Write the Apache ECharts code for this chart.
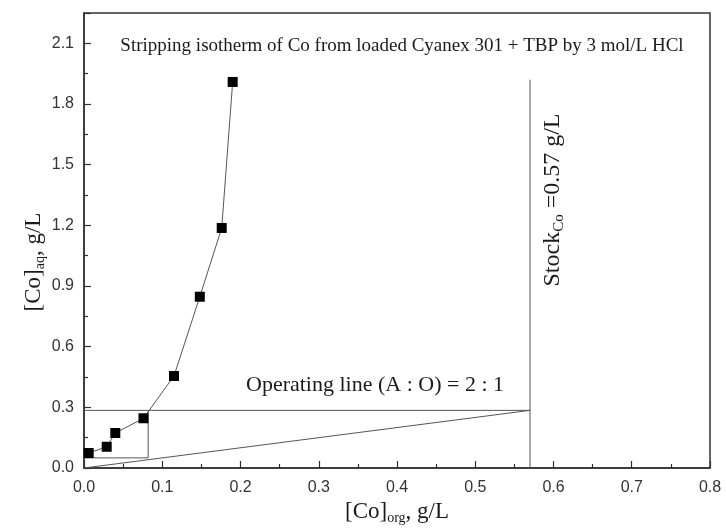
<!DOCTYPE html>
<html>
<head>
<meta charset="utf-8">
<script src="https://cdn.jsdelivr.net/npm/echarts@6/dist/echarts.min.js"></script>
<style>
  html, body { margin: 0; padding: 0; background: #fff; }
  #main { width: 726px; height: 531px; }
</style>
</head>
<body>
<div id="main"></div>
<script>
// isotherm points
var isoX = [0.006, 0.029, 0.040, 0.076, 0.115, 0.148, 0.176, 0.190];
var isoY = [0.074, 0.105, 0.173, 0.246, 0.455, 0.847, 1.187, 1.909];
// operating line (A:O = 2:1)
var opX = [0, 0.57];
var opY = [0, 0.285];
// feed level line
var feedX = [0, 0.57];
var feedY = [0.285, 0.285];
// McCabe-Thiele step
var stepX = [0.082, 0.082, 0];
var stepY = [0.285, 0.05, 0.05];
// stock concentration line
var stockX = [0.57, 0.57];
var stockY = [0, 1.92];

var xTicks = [0, 0.1, 0.2, 0.3, 0.4, 0.5, 0.6, 0.7, 0.8];
var yTicks = [0, 0.3, 0.6, 0.9, 1.2, 1.5, 1.8, 2.1];

function pairs(xs, ys) {
  return xs.map(function (x, i) { return [x, ys[i]]; });
}

var serif = '"Liberation Serif", "DejaVu Serif", serif';
var sans = '"Liberation Sans", Arial, sans-serif';
var lineCol = '#555';
var txtCol = '#1a1a1a';

function plainLine(xs, ys) {
  return {
    type: 'line',
    data: pairs(xs, ys),
    symbol: 'none',
    lineStyle: { color: lineCol, width: 1 },
    silent: true,
    z: 1
  };
}

// rich text with a subscript part
function subRich(big, small) {
  return {
    a: { fontFamily: serif, fontSize: big, fill: txtCol },
    s: { fontFamily: serif, fontSize: small, fill: txtCol, padding: [12, 0, 0, 0] }
  };
}

var myChart = echarts.init(document.getElementById('main'));
var option = {
  animation: false,
  grid: {
    left: 84, right: 16, top: 13, bottom: 63,
    show: true, borderColor: '#333', borderWidth: 1.5, backgroundColor: 'transparent'
  },
  xAxis: {
    type: 'value',
    min: xTicks[0], max: xTicks[xTicks.length - 1], interval: 0.1,
    axisLine: { lineStyle: { color: '#333', width: 1.5 } },
    axisTick: { inside: true, length: 7, lineStyle: { color: '#333', width: 1.2 } },
    minorTick: { show: true, splitNumber: 2, length: 4, lineStyle: { color: '#333', width: 1.2 } },
    splitLine: { show: false },
    axisLabel: {
      margin: 12, color: '#333', fontSize: 16, fontFamily: sans,
      formatter: function (v) { return v.toFixed(1); }
    }
  },
  yAxis: {
    type: 'value',
    min: 0, max: 2.25, interval: 0.3,
    axisLine: { show: true, lineStyle: { color: '#333', width: 1.5 } },
    axisTick: { inside: true, length: 7, lineStyle: { color: '#333', width: 1.2 } },
    minorTick: { show: true, splitNumber: 2, length: 4, lineStyle: { color: '#333', width: 1.2 } },
    splitLine: { show: false },
    axisLabel: {
      margin: 10, color: '#333', fontSize: 16, fontFamily: sans, showMaxLabel: false,
      formatter: function (v) {
        return yTicks.some(function (t) { return Math.abs(t - v) < 1e-6; }) ? v.toFixed(1) : '';
      }
    }
  },
  series: [
    plainLine(opX, opY),
    plainLine(feedX, feedY),
    plainLine(stepX, stepY),
    plainLine(stockX, stockY),
    {
      type: 'line',
      data: pairs(isoX, isoY),
      symbol: 'rect',
      symbolSize: 10,
      itemStyle: { color: '#000' },
      lineStyle: { color: lineCol, width: 1 },
      z: 3
    }
  ],
  graphic: [
    {
      type: 'text', x: 402, y: 46,
      style: {
        text: 'Stripping isotherm of Co from loaded Cyanex 301 + TBP by 3 mol/L HCl',
        fontFamily: serif, fontSize: 19, fill: txtCol,
        align: 'center', verticalAlign: 'middle'
      }
    },
    {
      type: 'text', x: 375, y: 385,
      style: {
        text: 'Operating line (A : O) = 2 : 1',
        fontFamily: serif, fontSize: 22, fill: txtCol,
        align: 'center', verticalAlign: 'middle'
      }
    },
    {
      type: 'text', x: 553, y: 200, rotation: Math.PI / 2,
      style: {
        text: '{a|Stock}{s|Co}{a| =0.57 g/L}',
        align: 'center', verticalAlign: 'middle',
        rich: subRich(24, 15)
      }
    },
    {
      type: 'text', x: 34, y: 262, rotation: Math.PI / 2,
      style: {
        text: '{a|[Co]}{s|aq}{a|, g/L}',
        align: 'center', verticalAlign: 'middle',
        rich: subRich(23, 14)
      }
    },
    {
      type: 'text', x: 397, y: 512,
      style: {
        text: '{a|[Co]}{s|org}{a|, g/L}',
        align: 'center', verticalAlign: 'middle',
        rich: subRich(23, 14)
      }
    }
  ]
};
myChart.setOption(option);
</script>
</body>
</html>
